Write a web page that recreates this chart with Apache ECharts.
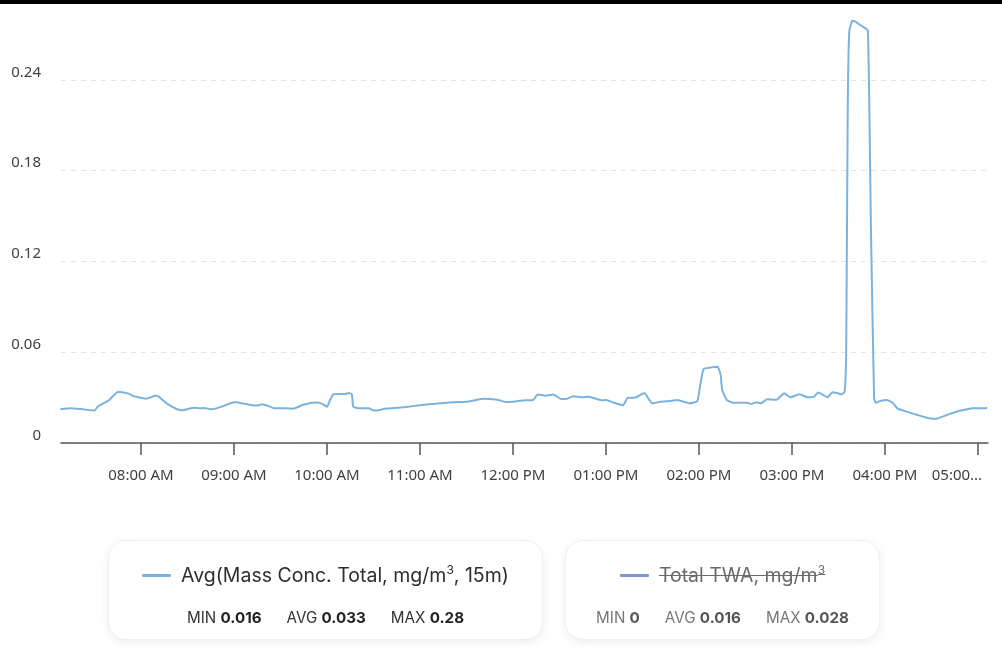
<!DOCTYPE html>
<html>
<head>
<meta charset="utf-8">
<script src="https://cdn.jsdelivr.net/npm/echarts@6/dist/echarts.min.js"></script>
<style>
  html, body { margin: 0; padding: 0; background: #fff; }
  #wrap { position: relative; width: 1002px; height: 658px; overflow: hidden; }
  #topbar { position: absolute; left: 0; top: 0; width: 1002px; height: 4px; background: #000; z-index: 5; }
  #chart { position: absolute; left: 0; top: -30px; width: 1002px; height: 688px; }
  .card { position: absolute; top: 540px; height: 100px; box-sizing: border-box; border: 1px solid #efefef; border-radius: 18px; background: #fff; box-shadow: 0 3px 10px rgba(0,0,0,0.07); font-family: Inter, "Noto Sans", sans-serif; display: flex; flex-direction: column; align-items: center; }
  .title { margin-top: 21px; display: flex; align-items: center; font-size: 19.5px; color: #2e2e2e; height: 26px; }
  .icon { width: 29px; height: 3px; margin-right: 10px; border-radius: 1px; }
  .stats { margin-top: 20px; font-size: 15.2px; color: #333; display: flex; gap: 25px; }
  .stats b { font-weight: 700; color: #222; }
  .off .title span.t { color: #6a6a6a; text-decoration: line-through; }
  .off .stats { color: #777; }
  .off .stats b { color: #555; }
  sup { font-size: 12px; line-height: 0; vertical-align: 8px; }
</style>
</head>
<body>
<div id="wrap">
  <div id="chart"></div>
  <div id="topbar"></div>
  <div class="card" style="left:108px;width:435px;">
    <div class="title"><div class="icon" style="background:#7ab3e0"></div><span class="t">Avg(Mass Conc. Total, mg/m<sup>3</sup>, 15m)</span></div>
    <div class="stats"><span>MIN <b>0.016</b></span><span>AVG <b>0.033</b></span><span>MAX <b>0.28</b></span></div>
  </div>
  <div class="card off" style="left:565px;width:315px;">
    <div class="title"><div class="icon" style="background:#7f97c8"></div><span class="t">Total TWA, mg/m<sup>3</sup></span></div>
    <div class="stats"><span>MIN <b>0</b></span><span>AVG <b>0.016</b></span><span>MAX <b>0.028</b></span></div>
  </div>
</div>
<script>
// ---- data ----
const day = '2024-01-01';
const times = [
  '07:08','07:15','07:28','07:30','07:32','07:35','07:39','07:42','07:45','07:48',
  '07:52','07:55','07:59','08:03','08:06','08:09','08:11','08:14','08:17','08:23',
  '08:27','08:30','08:35','08:37','08:41','08:45','08:48','08:52','08:56','09:01',
  '09:05','09:10','09:15','09:18','09:22','09:26','09:33','09:38','09:41','09:44',
  '09:47','09:50','09:54','09:57','10:00','10:02','10:04','10:08','10:12','10:14',
  '10:16','10:17','10:21','10:27','10:30','10:34','10:37','10:44','10:50','10:54',
  '11:06','11:21','11:30','11:36','11:41','11:50','11:55','12:02','12:08','12:13',
  '12:16','12:21','12:26','12:31','12:35','12:39','12:45','12:49','12:54','12:57',
  '13:00','13:05','13:11','13:14','13:19','13:23','13:25','13:28','13:30','13:35',
  '13:41','13:46','13:50','13:54','13:59','14:01','14:03','14:07','14:12','14:14',
  '14:15','14:18','14:22','14:31','14:34','14:37','14:40','14:44','14:50','14:55',
  '14:59','15:05','15:10','15:14','15:17','15:23','15:26','15:29','15:32','15:34',
  '15:35','15:36','15:37','15:39','15:41','15:43','15:46','15:49','15:51','15:53',
  '15:54','15:57','16:01','16:05','16:08','16:14','16:21','16:27','16:31','16:34',
  '16:40','16:46','16:53','16:57','17:01','17:06'
];
const avgMassConc = [
  0.0223,0.0229,0.0216,0.0214,0.0240,0.0258,0.0280,0.0310,0.0337,0.0335,
  0.0326,0.0310,0.0300,0.0293,0.0300,0.0313,0.0310,0.0284,0.0258,0.0225,
  0.0216,0.0225,0.0233,0.0229,0.0231,0.0223,0.0227,0.0240,0.0256,0.0271,
  0.0262,0.0253,0.0247,0.0256,0.0245,0.0229,0.0229,0.0227,0.0236,0.0251,
  0.0258,0.0266,0.0268,0.0258,0.0240,0.0284,0.0322,0.0324,0.0324,0.0330,
  0.0324,0.0240,0.0229,0.0229,0.0214,0.0218,0.0227,0.0231,0.0236,0.0242,
  0.0256,0.0269,0.0273,0.0284,0.0293,0.0286,0.0271,0.0275,0.0282,0.0284,
  0.0320,0.0313,0.0320,0.0291,0.0293,0.0309,0.0302,0.0306,0.0291,0.0282,
  0.0284,0.0266,0.0249,0.0298,0.0300,0.0322,0.0329,0.0284,0.0262,0.0273,
  0.0278,0.0284,0.0273,0.0262,0.0278,0.0395,0.0489,0.0498,0.0504,0.0450,
  0.0350,0.0284,0.0266,0.0266,0.0258,0.0270,0.0262,0.0289,0.0286,0.0328,
  0.0302,0.0322,0.0302,0.0305,0.0333,0.0302,0.0335,0.0330,0.0322,0.0340,
  0.0600,0.2200,0.2720,0.2790,0.2785,0.2770,0.2750,0.2725,0.1400,0.0300,
  0.0266,0.0277,0.0284,0.0266,0.0229,0.0207,0.0185,0.0167,0.0160,0.0162,
  0.0185,0.0207,0.0223,0.0229,0.0229,0.0231
];
const yTicks = { min: 0, max: 0.30, interval: 0.06 };
const xRange = { min: '07:08:24', max: '17:06:30' };

const seriesData = times.map((t, i) => [day + ' ' + t, avgMassConc[i]]);

function fmtTime(v) {
  const d = new Date(v);
  let h = d.getHours();
  const m = d.getMinutes();
  const ap = h >= 12 ? 'PM' : 'AM';
  h = h % 12; if (h === 0) h = 12;
  const s = (h < 10 ? '0' : '') + h + ':' + (m < 10 ? '0' : '') + m;
  if (d.getHours() === 17) return '{e|' + s + '...}';
  return s + ' ' + ap;
}

const chart = echarts.init(document.getElementById('chart'));
chart.setOption({
  animation: false,
  grid: { left: 61, right: 14, top: 19, bottom: 215, containLabel: false },
  xAxis: {
    type: 'time',
    min: day + ' ' + xRange.min,
    max: day + ' ' + xRange.max,
    minInterval: 3600000,
    maxInterval: 3600000,
    splitNumber: 10,
    axisLine: { show: true, lineStyle: { color: '#555', width: 1.5 } },
    axisTick: { show: true, length: 12, lineStyle: { color: '#555', width: 1.5 } },
    splitLine: { show: false },
    axisLabel: {
      formatter: fmtTime,
      color: '#404040',
      fontSize: 15,
      fontFamily: '"Noto Sans", sans-serif',
      margin: 25,
      hideOverlap: false,
      rich: { e: { color: '#404040', fontSize: 15, fontFamily: '"Noto Sans", sans-serif', padding: [0, 42, 0, 0] } }
    }
  },
  yAxis: {
    type: 'value',
    min: yTicks.min,
    max: yTicks.max,
    interval: yTicks.interval,
    axisLine: { show: false },
    axisTick: { show: false },
    splitLine: { show: true, lineStyle: { color: '#e3e3e3', type: [5, 5], width: 1 } },
    axisLabel: {
      formatter: v => v === 0 ? '0' : v.toFixed(2),
      color: '#404040',
      fontSize: 15,
      fontFamily: '"Noto Sans", sans-serif',
      margin: 20,
      verticalAlign: 'bottom'
    }
  },
  series: [{
    name: 'Avg(Mass Conc. Total, mg/m³, 15m)',
    type: 'line',
    data: seriesData,
    showSymbol: false,
    smooth: 0.15,
    lineStyle: { color: '#7ab3e0', width: 2 },
    itemStyle: { color: '#7ab3e0' }
  }]
});
</script>
</body>
</html>
